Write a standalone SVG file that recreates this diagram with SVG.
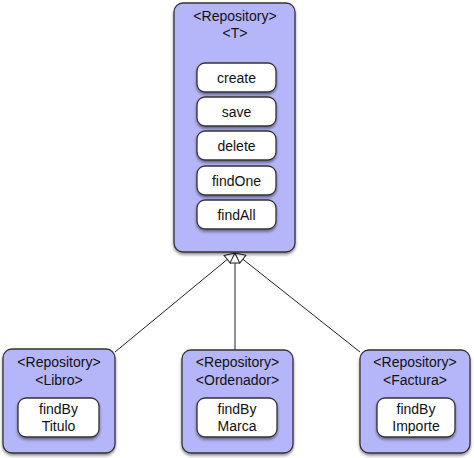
<svg xmlns="http://www.w3.org/2000/svg" width="474" height="458" viewBox="0 0 474 458">
<defs>
<filter id="sh" x="-20%" y="-20%" width="140%" height="140%">
<feGaussianBlur in="SourceAlpha" stdDeviation="1.5"/>
<feOffset dx="0" dy="2" result="b"/>
<feComponentTransfer><feFuncA type="linear" slope="0.45"/></feComponentTransfer>
<feMerge><feMergeNode/><feMergeNode in="SourceGraphic"/></feMerge>
</filter>
<marker id="tri" viewBox="0 0 12 12" refX="11" refY="6" markerWidth="12" markerHeight="12" markerUnits="userSpaceOnUse" orient="auto">
<path d="M1,1 L11,6 L1,11 Z" fill="#ffffff" stroke="#222" stroke-width="1"/>
</marker>
</defs>
<style>
.outer{fill:#b5b5fa;stroke:#333;stroke-width:1.3}
.inner{fill:#ffffff;stroke:#333;stroke-width:1.3}
text{font-family:"Liberation Sans",Arial,sans-serif;font-size:14px;fill:#111;text-anchor:middle}
.conn{stroke:#222;stroke-width:1;fill:none}
</style>
<g id="connectors">
<line class="conn" x1="115" y1="352" x2="235" y2="253" marker-end="url(#tri)"/>
<line class="conn" x1="235" y1="350" x2="235" y2="253" marker-end="url(#tri)"/>
<line class="conn" x1="360" y1="352" x2="235" y2="253" marker-end="url(#tri)"/>
</g>
<g id="repoT">
<rect class="outer" x="174" y="3" width="121" height="249" rx="9" filter="url(#sh)"/>
<text x="235" y="21">&lt;Repository&gt;</text>
<text x="235" y="38">&lt;T&gt;</text>
<rect class="inner" x="197" y="63" width="79" height="29" rx="8" filter="url(#sh)"/>
<text x="236.5" y="82.5">create</text>
<rect class="inner" x="197" y="97" width="79" height="29" rx="8" filter="url(#sh)"/>
<text x="236.5" y="116.5">save</text>
<rect class="inner" x="197" y="131" width="79" height="29" rx="8" filter="url(#sh)"/>
<text x="236.5" y="150.5">delete</text>
<rect class="inner" x="197" y="166" width="79" height="29" rx="8" filter="url(#sh)"/>
<text x="236.5" y="185.5">findOne</text>
<rect class="inner" x="197" y="200" width="79" height="29" rx="8" filter="url(#sh)"/>
<text x="236.5" y="219.5">findAll</text>
</g>
<g id="repoLibro">
<rect class="outer" x="3" y="349" width="112" height="104" rx="9" filter="url(#sh)"/>
<text x="59" y="367">&lt;Repository&gt;</text>
<text x="59" y="385">&lt;Libro&gt;</text>
<rect class="inner" x="18" y="398" width="81" height="39" rx="8" filter="url(#sh)"/>
<text x="58.5" y="414">findBy</text>
<text x="58.5" y="431">Titulo</text>
</g>
<g id="repoOrdenador">
<rect class="outer" x="182" y="350" width="111" height="103" rx="9" filter="url(#sh)"/>
<text x="237.5" y="367">&lt;Repository&gt;</text>
<text x="237.5" y="385">&lt;Ordenador&gt;</text>
<rect class="inner" x="197" y="398" width="80" height="39" rx="8" filter="url(#sh)"/>
<text x="237" y="414">findBy</text>
<text x="237" y="431">Marca</text>
</g>
<g id="repoFactura">
<rect class="outer" x="360" y="350" width="110" height="103" rx="9" filter="url(#sh)"/>
<text x="415" y="367">&lt;Repository&gt;</text>
<text x="415" y="385">&lt;Factura&gt;</text>
<rect class="inner" x="377" y="398" width="78" height="39" rx="8" filter="url(#sh)"/>
<text x="416" y="414">findBy</text>
<text x="416" y="431">Importe</text>
</g>
</svg>
